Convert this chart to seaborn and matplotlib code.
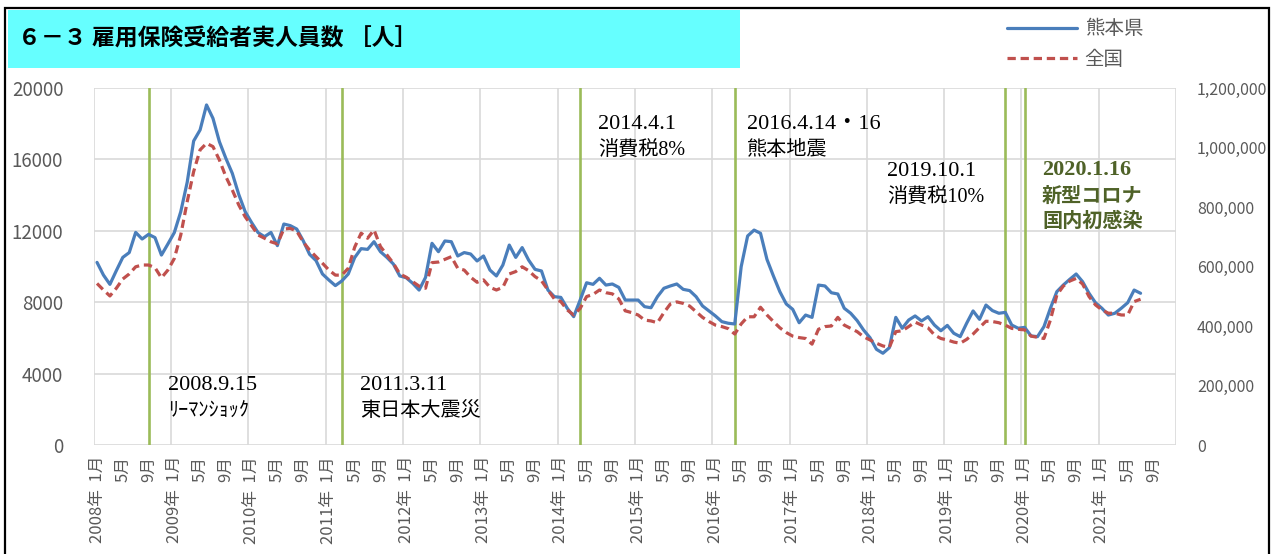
import numpy as np
import pandas as pd
import matplotlib
matplotlib.use("Agg")
import matplotlib.pyplot as plt
import seaborn as sns
from matplotlib.lines import Line2D
from matplotlib.patches import Rectangle
from matplotlib.ticker import FuncFormatter

# ---------------- data ----------------
start_year = 2008
n_months_axis = 168  # 2008/1 .. 2021/12 category slots

# Kumamoto (left axis), monthly from 2008/1
kumamoto = [
    10230, 9520, 9000, 9770, 10510, 10780, 11910, 11540, 11800, 11620, 10640, 11260,   # 2008
    11900, 13070, 14720, 17030, 17650, 19050, 18300, 16990, 16060, 15220, 14040, 13070,  # 2009
    12460, 11900, 11670, 11910, 11170, 12380, 12290, 12100, 11450, 10680, 10330, 9580,   # 2010
    9240, 8930, 9190, 9580, 10500, 11000, 10960, 11390, 10830, 10510, 10140, 9470,       # 2011
    9370, 9060, 8680, 9390, 11300, 10830, 11430, 11390, 10590, 10780, 10700, 10310,      # 2012
    10590, 9800, 9470, 10080, 11200, 10510, 11060, 10360, 9840, 9750, 8680, 8310,        # 2013
    8270, 7660, 7190, 8120, 9090, 9000, 9340, 8960, 9020, 8830, 8120, 8120,              # 2014
    8120, 7750, 7690, 8310, 8780, 8910, 9020, 8720, 8650, 8310, 7790, 7510,              # 2015
    7230, 6910, 6820, 6780, 9990, 11710, 12040, 11860, 10400, 9470, 8590, 7900,          # 2016
    7600, 6850, 7280, 7150, 8960, 8910, 8530, 8460, 7660, 7380, 6970, 6440,              # 2017
    6010, 5360, 5140, 5450, 7150, 6540, 7000, 7230, 6950, 7190, 6720, 6400,              # 2018
    6700, 6260, 6070, 6820, 7510, 7040, 7840, 7530, 7380, 7430, 6720, 6540,              # 2019
    6590, 6110, 6070, 6630, 7660, 8590, 8960, 9280, 9580, 9150, 8500, 7970,              # 2020
    7660, 7280, 7380, 7660, 7970, 8680, 8500,                                            # 2021
]

# Nationwide (right axis), monthly from 2008/1
zenkoku = [
    543000, 521000, 501000, 527000, 558000, 575000, 599000, 605000, 605000, 596000, 562000, 588000,
    627000, 706000, 818000, 919000, 992000, 1014000, 1003000, 958000, 902000, 857000, 807000, 767000,
    737000, 706000, 695000, 683000, 676000, 726000, 728000, 719000, 683000, 655000, 633000, 611000,
    588000, 571000, 571000, 594000, 665000, 712000, 695000, 723000, 667000, 639000, 611000, 575000,
    564000, 549000, 534000, 527000, 613000, 615000, 624000, 633000, 594000, 588000, 564000, 547000,
    555000, 530000, 521000, 530000, 575000, 583000, 599000, 586000, 566000, 552000, 521000, 491000,
    482000, 454000, 437000, 459000, 499000, 506000, 521000, 512000, 508000, 491000, 451000, 445000,
    437000, 420000, 417000, 411000, 445000, 474000, 481000, 476000, 467000, 448000, 429000, 415000,
    403000, 398000, 391000, 373000, 407000, 431000, 431000, 463000, 437000, 415000, 394000, 378000,
    366000, 361000, 358000, 339000, 389000, 398000, 400000, 429000, 403000, 392000, 381000, 364000,
    353000, 342000, 333000, 328000, 381000, 384000, 398000, 413000, 403000, 394000, 370000, 358000,
    353000, 346000, 342000, 355000, 373000, 395000, 416000, 415000, 411000, 403000, 392000, 389000,
    387000, 366000, 362000, 358000, 420000, 504000, 534000, 551000, 560000, 541000, 499000, 471000,
    454000, 443000, 443000, 437000, 437000, 482000, 490000,
]

# events: month slot (0 = 2008/1), date label, description
event_months = [8, 38, 75, 99, 141, 144]
event_dates = ["2008.9.15", "2011.3.11", "2014.4.1", "2016.4.14・16", "2019.10.1", "2020.1.16"]
event_texts = ["ﾘｰﾏﾝｼｮｯｸ", "東日本大震災", "消費税8%", "熊本地震", "消費税10%", "新型コロナ\n国内初感染"]

series_names = ["熊本県", "全国"]
title = "６－３ 雇用保険受給者実人員数 ［人］"

# ---------------- style ----------------
sns.set_theme(style="white")
plt.rcParams["font.family"] = ["Noto Sans CJK JP", "DejaVu Sans"]

W, H = 1273, 554
fig = plt.figure(figsize=(W / 100, H / 100), dpi=100)
fig.patch.set_facecolor("white")

ax_l, ax_r, ax_t, ax_b = 93.8, 1176.0, 88.0, 445.0
ax = fig.add_axes([ax_l / W, 1 - ax_b / H, (ax_r - ax_l) / W, (ax_b - ax_t) / H])
ax2 = ax.twinx()

BLUE = "#4A7EBB"
RED = "#C0504D"
GREEN = "#9BBB59"
GRID = "#D9D9D9"
TXT = "#595959"

df = pd.DataFrame({
    "month": np.arange(len(kumamoto)),
    series_names[0]: kumamoto,
    series_names[1]: zenkoku,
})

# event lines
for m in event_months:
    ax.axvline(m, color=GREEN, lw=1.9, zorder=2)

sns.lineplot(data=df, x="month", y=series_names[0], ax=ax, color=BLUE, lw=2.3, zorder=4)
sns.lineplot(data=df, x="month", y=series_names[1], ax=ax2, color=RED, lw=2.3)
ax2.lines[0].set_dashes([2.6, 1.5])

# axes limits and ticks
ax.set_xlim(-0.5, n_months_axis - 0.5)
ax.set_ylim(0, 20000)
ax2.set_ylim(0, 1200000)

ax.set_yticks(np.arange(0, 20001, 4000))
ax2.set_yticks(np.arange(0, 1200001, 200000))
ax2.yaxis.set_major_formatter(FuncFormatter(lambda v, p: f"{int(v):,}"))

label_pos = np.arange(0, n_months_axis, 4)
labels = []
for p in label_pos:
    y = start_year + p // 12
    mth = p % 12 + 1
    labels.append(f"{y}年  {mth}月" if mth == 1 else f"{mth}月")
ax.set_xticks(label_pos)
ax.set_xticklabels(labels, rotation=90, va="top", ha="center")
ax.set_xticks(np.arange(-0.5, n_months_axis, 12), minor=True)

ax.grid(False)
ax2.grid(False)
ax.yaxis.grid(True, color=GRID, lw=1.2)
ax.xaxis.grid(True, which="minor", color=GRID, lw=1.2)
ax.xaxis.grid(False, which="major")
ax.set_axisbelow(True)

for a in (ax, ax2):
    for s in a.spines.values():
        s.set_visible(False)
    a.set_xlabel("")
    a.set_ylabel("")

ax.tick_params(axis="y", length=0, pad=22, labelsize=13.5, labelcolor=TXT)
ax.tick_params(axis="x", which="both", length=0, pad=8, labelsize=12, labelcolor=TXT)
ax2.tick_params(axis="y", length=0, pad=15, labelsize=11.5, labelcolor=TXT)

# annotations
serif = ["Liberation Serif", "Noto Sans CJK JP"]
ann_pos = [(11.0, 3360), (40.8, 3360), (77.8, 17980), (100.9, 17980), (122.7, 15350), (146.7, 15410)]
for k, (x, y) in enumerate(ann_pos):
    is_last = k == len(ann_pos) - 1
    col = "#4F6228" if is_last else "black"
    fw = "bold" if is_last else "normal"
    ax.text(x, y, event_dates[k], fontsize=16, family=serif, color=col, fontweight=fw,
            va="center", ha="left", zorder=6)
    lines = event_texts[k].split("\n")
    for j, line in enumerate(lines):
        ax.text(x, y - 1480 - j * 1460, line, fontsize=14.5, family=serif, color=col,
                fontweight=fw, va="center", ha="left", zorder=6)

# legend
handles = [Line2D([], [], color=BLUE, lw=2.3),
           Line2D([], [], color=RED, lw=2.3, dashes=[2.6, 1.5])]
leg = fig.legend(handles, series_names, loc="upper left",
                 bbox_to_anchor=(989 / W, 1 - 1 / H), frameon=False, fontsize=14,
                 handlelength=3.6, handletextpad=0.42, labelspacing=0.48)
for t in leg.get_texts():
    t.set_color(TXT)

# title block
fig.patches.append(Rectangle((8 / W, 1 - 68 / H), (740 - 8) / W, (68 - 10) / H,
                             transform=fig.transFigure, facecolor="#66FFFF",
                             edgecolor="none", zorder=0))
fig.text(18 / W, 1 - 39 / H, title, fontsize=16.5, fontweight="bold", color="black",
         va="center", ha="left")

# outer frame
fig.patches.append(Rectangle((5 / W, -0.05), (1269 - 5) / W, 1.05 - 8 / H,
                             transform=fig.transFigure, fill=False,
                             edgecolor="black", lw=1.6, zorder=10))

fig.savefig("out.png", dpi=100)
